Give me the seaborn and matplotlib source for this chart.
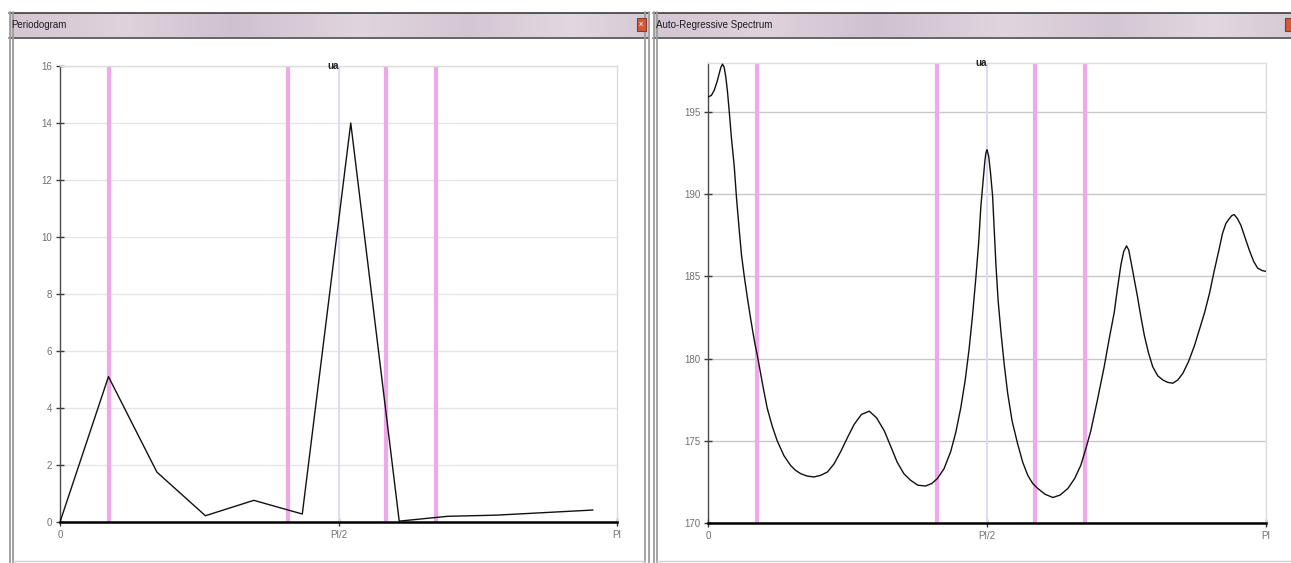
import numpy as np
import matplotlib
matplotlib.use("Agg")
import matplotlib.pyplot as plt
import seaborn as sns
from matplotlib.patches import Rectangle
from matplotlib.ticker import MultipleLocator, FixedLocator, FixedFormatter

# ---------------------------------------------------------------- data
# Periodogram ordinates at the Fourier frequencies (frequency in units of pi)
periodogram_freq = [0.000, 0.087, 0.174, 0.261, 0.348, 0.435,
                    0.522, 0.609, 0.696, 0.783, 0.870, 0.957]
periodogram_vals = [0.0, 5.1, 1.75, 0.22, 0.76, 0.28,
                    14.0, 0.03, 0.2, 0.24, 0.33, 0.42]

# Auto-regressive spectral density (frequency in units of pi)
ar_freq = [0.000, 0.006, 0.011, 0.016, 0.020, 0.023, 0.026, 0.029, 0.032,
           0.035, 0.038, 0.042, 0.047, 0.051, 0.056, 0.060, 0.065, 0.071,
           0.077, 0.083, 0.090, 0.098, 0.106, 0.115, 0.124, 0.136, 0.148,
           0.157, 0.166, 0.178, 0.190, 0.202, 0.214, 0.226, 0.238, 0.250,
           0.262, 0.275, 0.289, 0.302, 0.316, 0.327, 0.339, 0.351, 0.363,
           0.376, 0.390, 0.401, 0.411, 0.423, 0.435, 0.444, 0.453, 0.461,
           0.468, 0.474, 0.480, 0.485, 0.489, 0.493, 0.496, 0.498, 0.500,
           0.503, 0.506, 0.510, 0.513, 0.516, 0.520, 0.525, 0.531, 0.537,
           0.545, 0.555, 0.564, 0.573, 0.582, 0.591, 0.604, 0.618, 0.631,
           0.645, 0.657, 0.668, 0.677, 0.686, 0.698, 0.710, 0.719, 0.728,
           0.734, 0.740, 0.745, 0.750, 0.754, 0.758, 0.764, 0.770, 0.776,
           0.782, 0.789, 0.797, 0.806, 0.815, 0.824, 0.833, 0.842, 0.851,
           0.861, 0.872, 0.881, 0.890, 0.899, 0.907, 0.915, 0.922, 0.928,
           0.934, 0.939, 0.943, 0.949, 0.955, 0.962, 0.970, 0.978, 0.985,
           0.993, 1.000]
ar_vals = [195.9, 196.0, 196.3, 196.8, 197.3, 197.7, 197.9, 197.7, 197.1,
           196.2, 195.05, 193.4, 191.7, 189.8, 187.8, 186.3, 185.0, 183.6,
           182.3, 181.1, 179.9, 178.4, 177.0, 175.9, 175.0, 174.1, 173.5,
           173.2, 173.0, 172.85, 172.8, 172.9, 173.1, 173.6, 174.35, 175.2,
           176.0, 176.6, 176.8, 176.4, 175.6, 174.7, 173.7, 173.0, 172.6,
           172.3, 172.25, 172.4, 172.7, 173.3, 174.35, 175.5, 177.0, 178.7,
           180.6, 182.6, 184.9, 187.0, 189.25, 190.8, 191.95, 192.5, 192.7,
           192.3, 191.4, 189.9, 187.8, 185.7, 183.5, 181.6, 179.6, 177.9,
           176.2, 174.8, 173.7, 172.9, 172.4, 172.1, 171.75, 171.55, 171.7,
           172.1, 172.7, 173.5, 174.5, 175.6, 177.5, 179.5, 181.2, 182.8,
           184.3, 185.7, 186.5, 186.85, 186.6, 185.9, 184.8, 183.7, 182.5,
           181.4, 180.4, 179.5, 178.95, 178.7, 178.55, 178.5, 178.7, 179.1,
           179.8, 180.8, 181.8, 182.8, 184.0, 185.3, 186.5, 187.6, 188.2,
           188.5, 188.7, 188.75, 188.5, 188.1, 187.4, 186.6, 185.9, 185.5,
           185.35, 185.3]

# Highlighted frequencies (units of pi)
marker_freq = [0.088, 0.410, 0.586, 0.675]
center_freq = [0.5]

x_tick_pos = [0.0, 0.5, 1.0]
x_tick_labels = ["0", "PI/2", "PI"]

window_titles = ["Periodogram", "Auto-Regressive Spectrum"]
series_name = "ua"

# ---------------------------------------------------------------- style
sns.set_style("white")
plt.rcParams["font.family"] = ["Liberation Sans Narrow", "Liberation Sans", "DejaVu Sans"]

W, H = 1291, 563
fig = plt.figure(figsize=(W / 100, H / 100), dpi=100)
fig.patch.set_facecolor("white")

# ---------------------------------------------------------------- window frames
chrome = fig.add_axes([0, 0, 1, 1], zorder=0)
chrome.set_xlim(0, W)
chrome.set_ylim(H, 0)
chrome.axis("off")


def title_bar(x0, x1):
    stops_pos = [0.0, 0.18, 0.35, 0.55, 0.72, 0.88, 1.0]
    stops_col = [(212, 198, 211), (222, 210, 221), (208, 193, 208),
                 (224, 213, 223), (212, 199, 212), (226, 216, 225),
                 (214, 202, 213)]
    xs = np.linspace(0, 1, 400)
    cols = np.stack([np.interp(xs, stops_pos, [c[i] for c in stops_col])
                     for i in range(3)], axis=-1) / 255.0
    chrome.imshow(cols[np.newaxis, :, :], extent=(x0, x1, 37, 13),
                  aspect="auto", interpolation="bilinear", zorder=1)


title_bar(10, 648)
title_bar(654, W)

# dark edges of the title bars
for (x0, x1) in [(9, 649), (653, W)]:
    chrome.plot([x0, x1], [12.5, 12.5], color="#3c3c3c", lw=1.2, zorder=2)
    chrome.plot([x0, x1], [38, 38], color="#4a4a4a", lw=1.2, zorder=2)

# side borders of the windows
for x in [9.5, 13, 645, 648.5, 653.5, 657]:
    chrome.plot([x, x], [12, H], color="#9c9c9c", lw=1.3, zorder=2)
chrome.plot([13, 645], [560.5, 560.5], color="#d0d0d0", lw=1, zorder=2)
chrome.plot([657, W], [560.5, 560.5], color="#d0d0d0", lw=1, zorder=2)

# close buttons
chrome.add_patch(Rectangle((637, 18), 9, 13, facecolor="#d3593a",
                           edgecolor="#8a3a28", lw=0.8, zorder=3))
chrome.text(641.5, 24.5, "x", color="white", fontsize=6, ha="center",
            va="center", zorder=4)
chrome.add_patch(Rectangle((1285, 18), 9, 13, facecolor="#d3593a",
                           edgecolor="#8a3a28", lw=0.8, zorder=3))

chrome.text(11, 25, window_titles[0], fontsize=7, color="#1e1e1e",
            va="center", ha="left", zorder=4)
chrome.text(656, 25, window_titles[1], fontsize=7, color="#1e1e1e",
            va="center", ha="left", zorder=4)


# ---------------------------------------------------------------- chart panels
def make_panel(rect, ylim, major, minor, grid_color):
    ax = fig.add_axes(rect, zorder=2)
    ax.set_facecolor("none")
    ax.set_xlim(0, np.pi)
    ax.set_ylim(*ylim)
    ax.xaxis.set_major_locator(FixedLocator([p * np.pi for p in x_tick_pos]))
    ax.xaxis.set_major_formatter(FixedFormatter(x_tick_labels))
    ax.yaxis.set_major_locator(MultipleLocator(major))
    ax.yaxis.set_minor_locator(MultipleLocator(minor))
    ax.yaxis.grid(True, which="major", color=grid_color, lw=1, zorder=0)
    ax.xaxis.grid(False)
    ax.tick_params(axis="both", which="major", direction="inout", length=6,
                   width=1, color="#3a3a3a", labelsize=7,
                   labelcolor="#707070", pad=2.5)
    ax.tick_params(axis="y", which="minor", direction="in", length=3,
                   width=1, color="#3a3a3a")
    ax.tick_params(left=True, bottom=True)
    ax.spines["left"].set_color("#4a4a4a")
    ax.spines["left"].set_linewidth(1)
    ax.spines["bottom"].set_color("black")
    ax.spines["bottom"].set_linewidth(1.8)
    ax.spines["bottom"].set_zorder(5)
    for s in ["top", "right"]:
        ax.spines[s].set_color("#dcdcdc")
        ax.spines[s].set_linewidth(1)
    for f in marker_freq:
        ax.axvline(f * np.pi, color="#efa8ec", lw=3, zorder=1)
    for f in center_freq:
        ax.axvline(f * np.pi, color="#dedcf4", lw=1.5, zorder=1)
    ax.text(0.49, 1.0, series_name, transform=ax.transAxes, fontsize=7,
            fontweight="bold", ha="center", va="center", color="#202020",
            zorder=6)
    return ax


ax_p = make_panel([60 / W, (H - 522) / H, 557 / W, (522 - 66) / H],
                  (0, 16), 2, 1, "#e6e6e6")
sns.lineplot(x=np.array(periodogram_freq) * np.pi, y=periodogram_vals,
             ax=ax_p, color="#111111", lw=1.0, zorder=3)

ax_ar = make_panel([708 / W, (H - 523) / H, 558 / W, (523 - 62.5) / H],
                   (170, 198.0), 5, 2.5, "#c8c8c8")
sns.lineplot(x=np.array(ar_freq) * np.pi, y=ar_vals,
             ax=ax_ar, color="#111111", lw=1.0, zorder=3)

for ax in (ax_p, ax_ar):
    ax.set_xlabel("")
    ax.set_ylabel("")

fig.savefig("out.png", dpi=100, facecolor="white")
